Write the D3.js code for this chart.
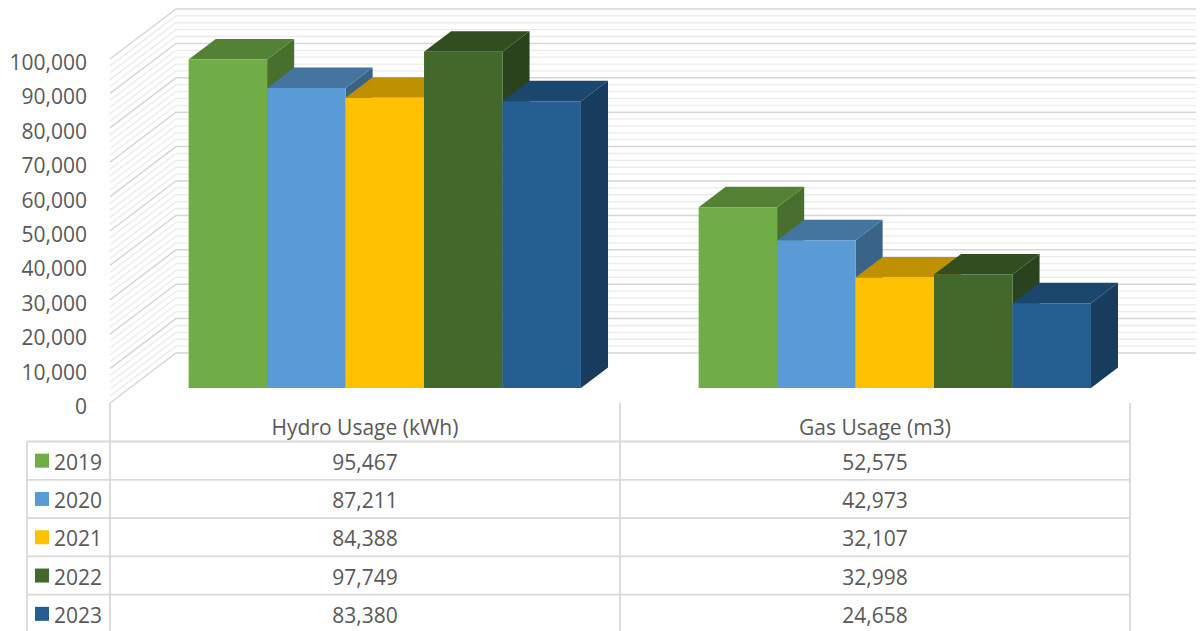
<!DOCTYPE html>
<html>
<head>
<meta charset="utf-8">
<script src="https://cdn.jsdelivr.net/npm/d3@7"></script>
<style>
  body { margin: 0; background: #fff; }
  svg text { font-family: "Open Sans", "Noto Sans", sans-serif; fill: #595959; }
</style>
</head>
<body>
<svg id="chart" width="1201" height="631"></svg>
<script>
// data
const categories = ["Hydro Usage (kWh)", "Gas Usage (m3)"];
const years = ["2019", "2020", "2021", "2022", "2023"];
const hydro = [95467, 87211, 84388, 97749, 83380];
const gas = [52575, 42973, 32107, 32998, 24658];
const yearColors = ["#70ad47", "#5b9bd5", "#ffc000", "#43682b", "#255e91"];
const yTicks = d3.range(0, 100001, 10000);

const seriesValues = [hydro, gas];

const svg = d3.select("#chart");
const fontSize = 21;

// front plane of the plot, plus an oblique depth offset
const left = 110, right = 1130;
const depthX = 66, depthY = 50;
const barFront = 0.3, barBack = 0.71;

const y = d3.scaleLinear().domain([0, 100000]).range([403, 59]);
const x0 = d3.scaleBand().domain(categories).range([left, right]);
const barW = x0.bandwidth() / (years.length + 1.5);
const x1 = d3.scaleBand().domain(years).range([0.75 * barW, 0.75 * barW + years.length * barW]);

function pt(x, v, d) {
  return [x + depthX * d, y(v) - depthY * d];
}

// walls: minor + major gridlines
const grid = svg.append("g");
const minor = d3.range(0, 100001, 2000);
minor.forEach(v => {
  const major = v % 10000 === 0;
  const stroke = major ? "#d6d6d6" : "#ebebeb";
  const a = pt(left, v, 0), b = pt(left, v, 1), c = pt(right, v, 1);
  grid.append("path")
    .attr("d", d3.line()([a, b, c]))
    .attr("fill", "none")
    .attr("stroke", stroke)
    .attr("stroke-width", major ? 1.5 : 1.3);
});

// value axis labels
svg.append("g").selectAll("text")
  .data(yTicks)
  .join("text")
  .attr("x", 87)
  .attr("y", d => y(d) + 3)
  .attr("text-anchor", "end")
  .attr("dominant-baseline", "central")
  .attr("font-size", fontSize)
  .text(d => d3.format(",")(d));

// bars, left to right so later fronts cover earlier sides
const bars = svg.append("g");
categories.forEach((cat, ci) => {
  years.forEach((yr, si) => {
    const v = seriesValues[ci][si];
    const xa = x0(cat) + x1(yr), xb = xa + x1.bandwidth();
    const base = d3.color(yearColors[si]);
    const shade = k => d3.rgb(base.r * k, base.g * k, base.b * k).formatHex();
    const f0 = pt(xa, 0, barFront), f1 = pt(xb, 0, barFront);
    const t0 = pt(xa, v, barFront), t1 = pt(xb, v, barFront);
    const b0 = pt(xa, v, barBack), b1 = pt(xb, v, barBack);
    const s0 = pt(xb, 0, barBack);
    bars.append("path")
      .attr("d", d3.line()([f1, t1, b1, s0]) + "Z")
      .attr("fill", shade(0.64));
    bars.append("path")
      .attr("d", d3.line()([t0, t1, b1, b0]) + "Z")
      .attr("fill", shade(0.75));
    bars.append("path")
      .attr("d", d3.line()([f0, t0, t1, f1]) + "Z")
      .attr("fill", yearColors[si]);
  });
});

// data table
const table = svg.append("g");
const headTop = 403, rowH = 38.3, headBottom = 441.5;
const tableLeft = 27;
const lineColor = "#d9d9d9";
const rowTops = years.map((d, i) => headBottom + i * rowH);

rowTops.forEach(t => {
  table.append("line")
    .attr("x1", tableLeft).attr("x2", right)
    .attr("y1", t).attr("y2", t)
    .attr("stroke", lineColor).attr("stroke-width", 1.8);
});
[[tableLeft, headBottom], [left, headTop], [x0(categories[1]), headTop], [right, headTop]].forEach(([lx, ly]) => {
  table.append("line")
    .attr("x1", lx).attr("x2", lx)
    .attr("y1", ly).attr("y2", 640)
    .attr("stroke", lineColor).attr("stroke-width", 1.8);
});

categories.forEach(cat => {
  table.append("text")
    .attr("x", x0(cat) + x0.bandwidth() / 2)
    .attr("y", (headTop + headBottom) / 2 + 5)
    .attr("text-anchor", "middle")
    .attr("dominant-baseline", "central")
    .attr("font-size", fontSize)
    .text(cat);
});

years.forEach((yr, si) => {
  const cy = rowTops[si] + rowH / 2;
  table.append("rect")
    .attr("x", 35).attr("y", cy - 7)
    .attr("width", 14).attr("height", 14)
    .attr("fill", yearColors[si]);
  table.append("text")
    .attr("x", 54).attr("y", cy + 1)
    .attr("dominant-baseline", "central")
    .attr("font-size", fontSize)
    .text(yr);
  categories.forEach((cat, ci) => {
    table.append("text")
      .attr("x", x0(cat) + x0.bandwidth() / 2)
      .attr("y", cy + 1)
      .attr("text-anchor", "middle")
      .attr("dominant-baseline", "central")
      .attr("font-size", fontSize)
      .text(d3.format(",")(seriesValues[ci][si]));
  });
});
</script>
</body>
</html>
